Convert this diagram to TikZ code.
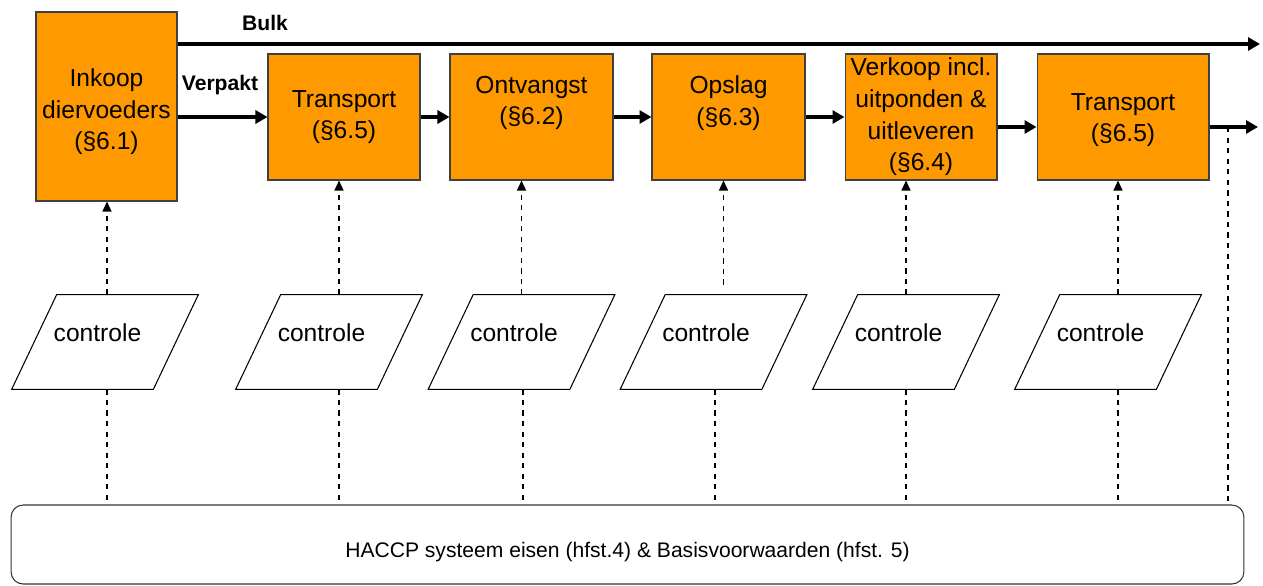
\documentclass[tikz,border=0pt]{standalone}
\usepackage{fontspec}
\setmainfont{Liberation Sans}
\usetikzlibrary{arrows.meta}
\definecolor{stapkleur}{HTML}{FF9900}
\newcommand{\stapfont}{\fontsize{14}{18}\selectfont}
\newcommand{\labelfont}{\fontsize{12}{14}\selectfont}

\begin{document}
\begin{tikzpicture}[x=0.02cm,y=-0.02cm,
  stap/.style={draw=black!75, line width=.6pt, fill=stapkleur, align=center, font=\stapfont, inner sep=1pt},
  controle/.style={minimum width=3.72cm, minimum height=1.88cm, inner sep=0pt,
    font=\stapfont, text depth=.36cm},
  rand/.style={line width=.6pt},
  stroom/.style={line width=2pt, -{Triangle[length=.24cm,width=.26cm]}},
  toets/.style={dashed, line width=.8pt, -{Triangle[length=.2cm,width=.18cm]}},
  basis/.style={dashed, line width=.8pt}]
  \useasboundingbox (0,0) rectangle (1263,585);

  % processtappen
  \node (ink) at (106.5,106.5) [stap, minimum width=2.82cm, minimum height=3.78cm, text height=1.84cm] {Inkoop\\diervoeders\\(§6.1)};
  \node (tr1) at (344,117) [stap, minimum width=3.04cm, minimum height=2.52cm] {Transport\\(§6.5)};
  \node (ontv) at (531.5,117) [stap, minimum width=3.26cm, minimum height=2.52cm, text depth=.66cm] {Ontvangst\\(§6.2)};
  \node (opsl) at (728.5,117) [stap, minimum width=3.06cm, minimum height=2.52cm, text depth=.66cm] {Opslag\\(§6.3)};
  \node (verk) at (921,117) [stap, minimum width=3.04cm, minimum height=2.52cm] {Verkoop incl.\\uitponden \&\\uitleveren\\(§6.4)};
  \node (tr2) at (1123,117) [stap, minimum width=3.44cm, minimum height=2.52cm, text height=1.1cm] {Transport\\(§6.5)};

  \node (haccp) at (627.5,544.5) [draw=black!80, line width=.6pt, rounded corners=.24cm, minimum width=24.66cm, minimum height=1.58cm,
        font=\labelfont, text height=.6cm] {HACCP systeem eisen (hfst.4) \& Basisvoorwaarden (hfst. 5)};

  % controles (parallellogram om de tekst)
  \foreach \n/\x in {c1/105, c2/329, c3/521.5, c4/713.5, c5/906, c6/1108}
    {
      \node (\n) at (\x,342) [controle] {controle\kern.3cm};
      \draw[rand] ([xshift=.9cm]\n.north west) -- (\n.north east) -- ([xshift=-.9cm]\n.south east) -- (\n.south west) -- cycle;
    }

  % stromen
  \coordinate (bulkend) at (1260,44);
  \coordinate (uitend) at (1258,127);
  \coordinate (aftak) at (1228,127);
  \draw[stroom] (ink.east |- bulkend) -- (bulkend);
  \draw[stroom] (ink.east |- tr1.west) -- (tr1.west);
  \draw[stroom] (tr1) -- (ontv);
  \draw[stroom] (ontv) -- (opsl);
  \draw[stroom] (opsl) -- (verk);
  \draw[stroom] (verk.east |- uitend) -- (tr2.west |- uitend);
  \draw[stroom] (tr2.east |- uitend) -- (uitend);
  \draw[basis] (aftak) -- (aftak |- haccp.north);

  \node (bulk) at (265,23) [font=\bfseries\labelfont] {Bulk};
  \node (verpakt) at (220,85) [font=\bfseries\labelfont] {Verpakt};

  \foreach \c/\s/\dx/\dy in {c1/ink/.04/0, c2/tr1/.2/0, c3/ontv/0/0, c4/opsl/.2/.2, c5/verk/0/0, c6/tr2/.2/0}
    {
      \path ([shift={(\dx cm,\dy cm)}]\c.north) coordinate (boven\c);
      \draw[toets] (boven\c) -- (boven\c |- \s.south);
    }
  \foreach \c/\dx in {c1/.04, c2/.2, c3/.03, c4/.03, c5/0, c6/.2}
    {
      \path ([xshift=\dx cm]\c.south) coordinate (onder\c);
      \draw[basis] (onder\c) -- (onder\c |- haccp.north);
    }
\end{tikzpicture}
\end{document}
